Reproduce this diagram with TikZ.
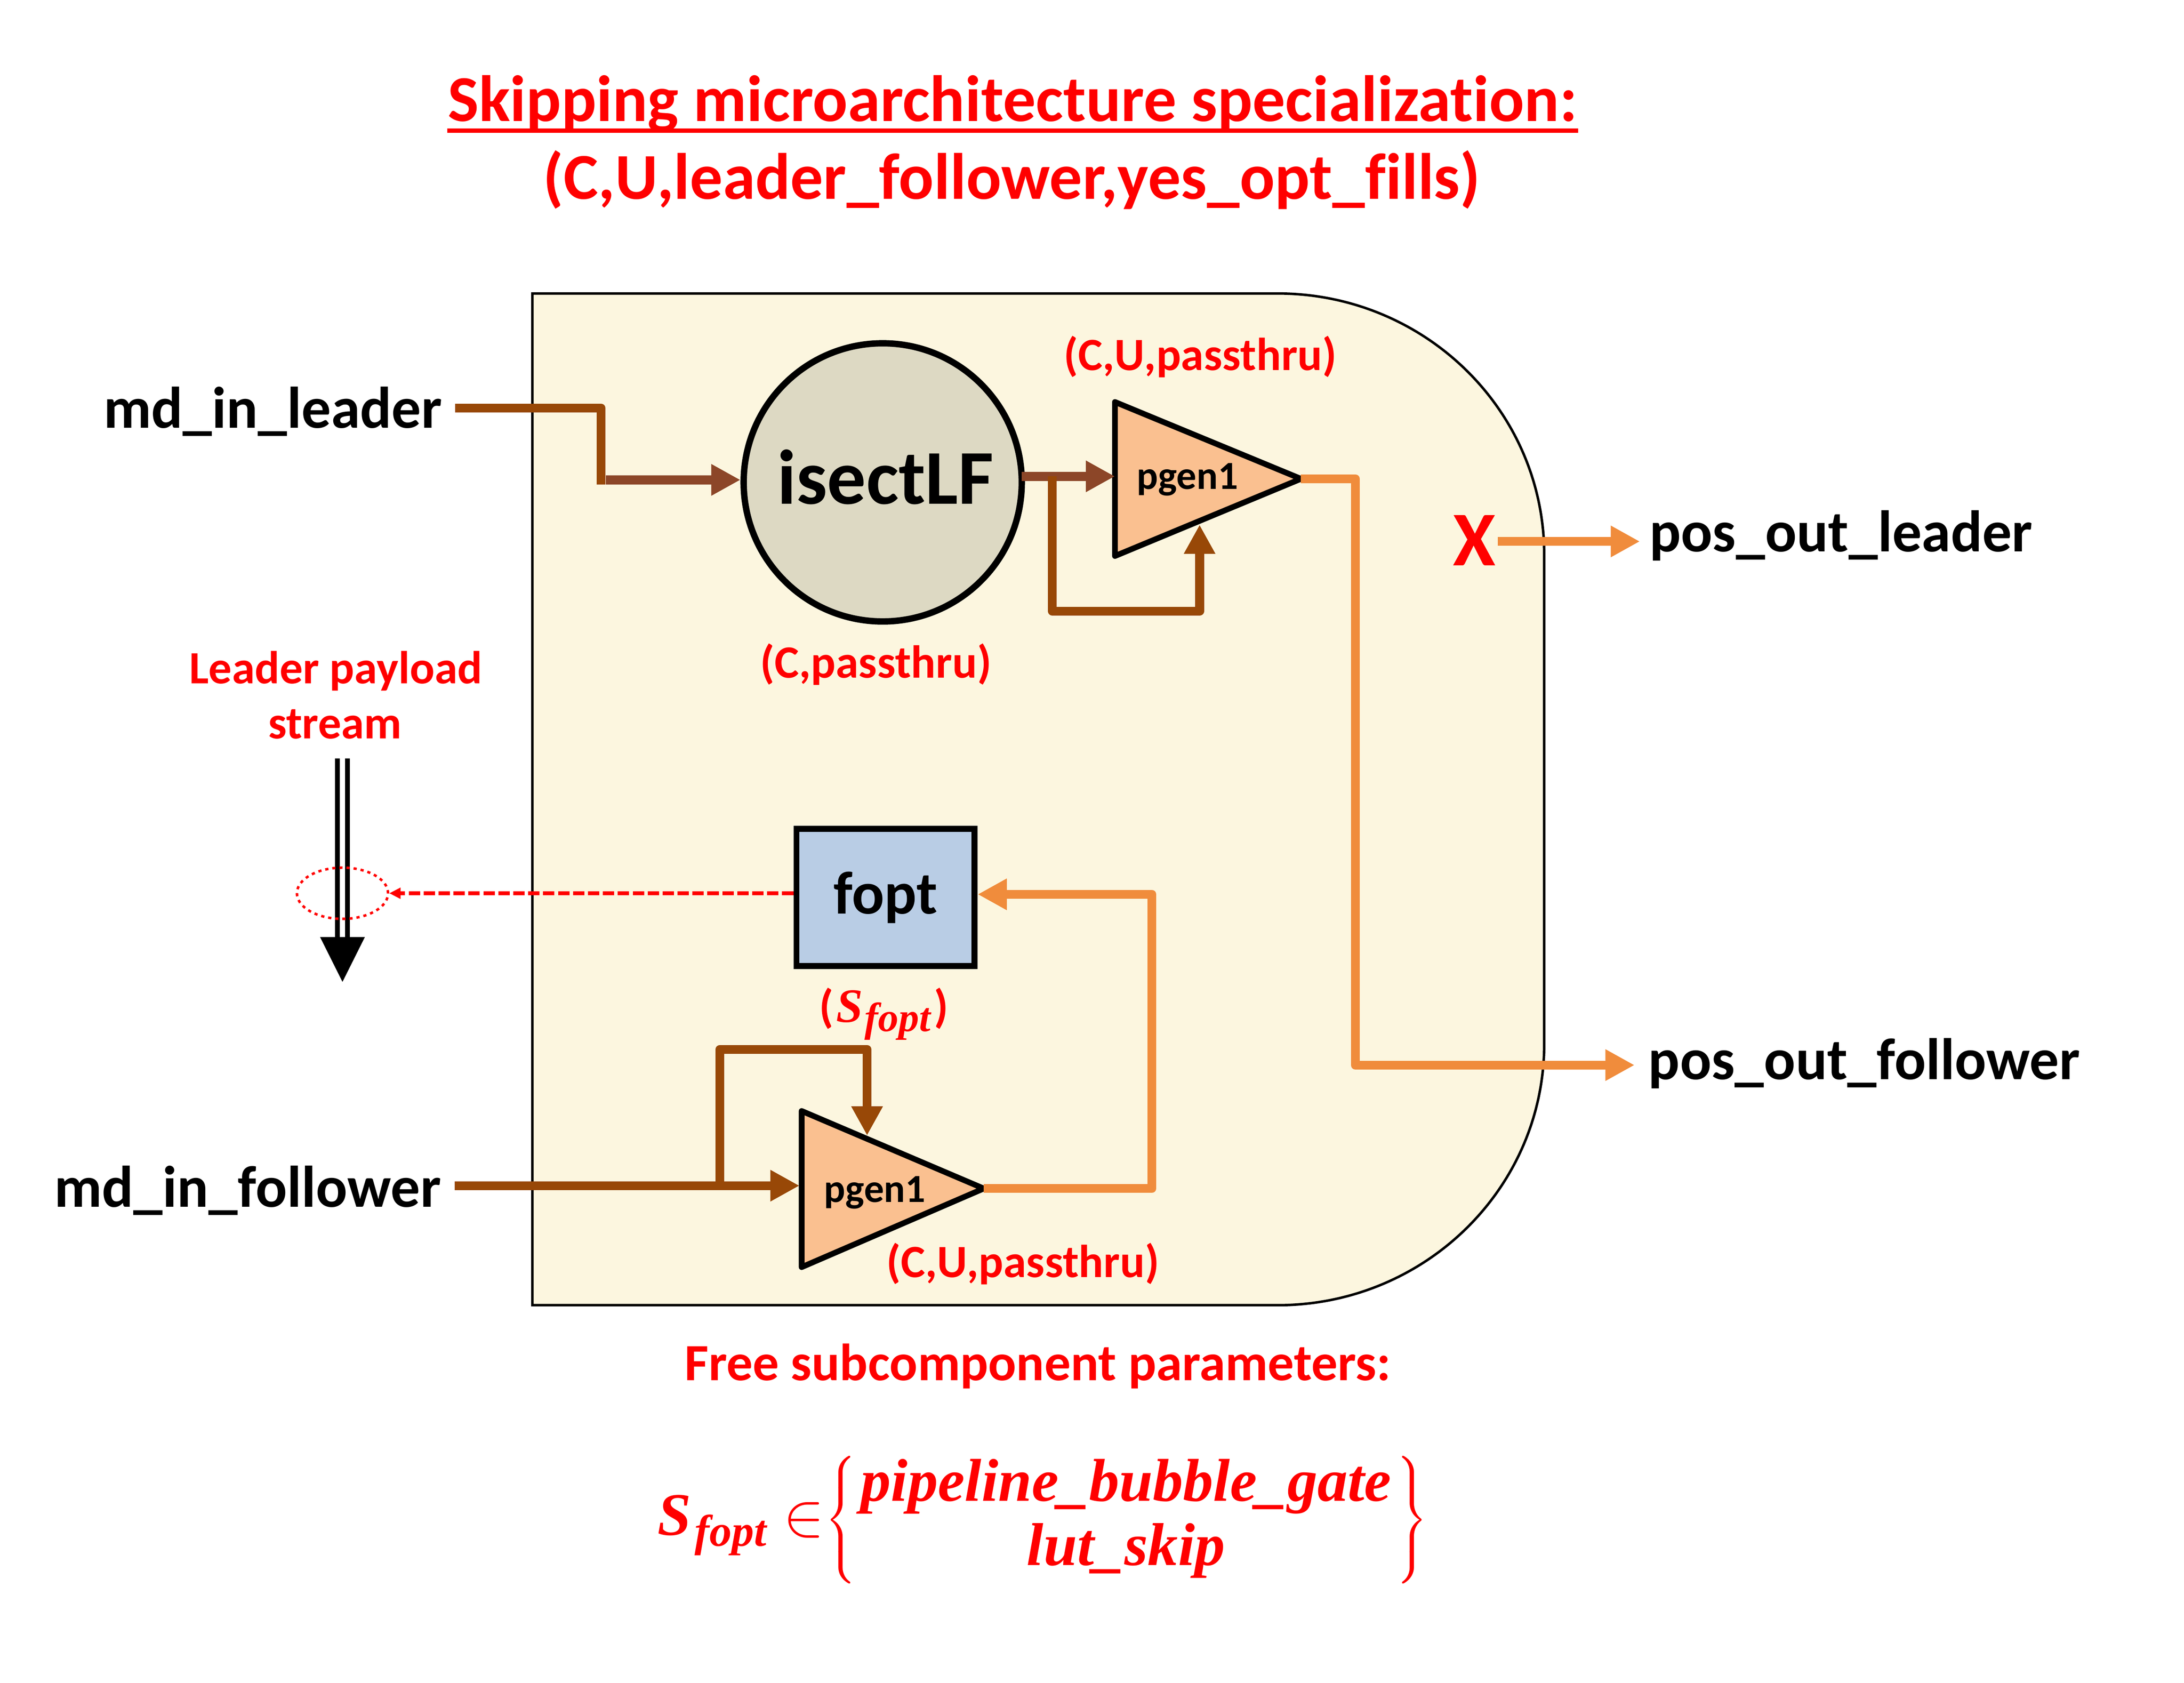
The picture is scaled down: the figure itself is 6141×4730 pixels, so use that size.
\documentclass[tikz,border=0pt]{standalone}
\usepackage{fontspec}
\setmainfont{Carlito}[Ligatures=NoCommon]
\newfontfamily\formfont{Liberation Serif}[Ligatures=NoCommon]
\usetikzlibrary{arrows.meta,calc,shapes.geometric}
\definecolor{boxfill}{HTML}{FCF6DF}
\definecolor{isectfill}{HTML}{DDD9C3}
\definecolor{pgenfill}{HTML}{FAC090}
\definecolor{foptfill}{HTML}{B9CDE5}
\definecolor{wirebrown}{HTML}{984807}
\definecolor{siennac}{HTML}{8C4628}
\definecolor{orangec}{HTML}{F08C3C}
\definecolor{lred}{HTML}{FF0000}
\begin{document}
\begin{tikzpicture}[x=0.1pt,y=-0.1pt,
  lbl/.style={inner sep=0, font=\bfseries\fontsize{16.5}{20}\selectfont},
  rlbl/.style={inner sep=0, text=lred, font=\bfseries\fontsize{13}{16}\selectfont},
  brownw/.style={draw=wirebrown, line width=2.5pt, line join=round},
  siennaw/.style={draw=siennac, line width=2.6pt, line join=round},
  orangew/.style={draw=orangec, line width=2.5pt, line join=round},
  tipa/.style={-{Triangle[length=8.2pt,width=8.3pt]}},
  tri/.style={draw=black, line width=1.6pt, fill=pgenfill, line join=round},
  pgentext/.style={inner sep=0, font=\bfseries\fontsize{11.2}{13}\selectfont},
  formtext/.style={inner sep=0, text=lred, font=\formfont\bfseries\itshape\fontsize{17}{20}\selectfont},
  titletext/.style={inner sep=0, text=lred, font=\bfseries\fontsize{18.4}{22}\selectfont},
]
\useasboundingbox (0,0) rectangle (6141,4730);

% title
\node[titletext, anchor=base] (t1) at (2847,341) {Skipping microarchitecture specialization:};
\draw[lred, line width=1.2pt] ($(t1.base west)+(0,26)$) -- ($(t1.base east)+(0,26)$);
\node[titletext, anchor=base] (t2) at (2845,559) {(C,U,leader\_follower,yes\_opt\_fills)};

% main box
\draw[fill=boxfill, line width=0.7pt] (1497,825) -- (3592,825)
  arc[start angle=-90, end angle=0, x radius=750, y radius=735] -- (4342,2934)
  arc[start angle=0, end angle=90, x radius=750, y radius=735] -- (1497,3669) -- cycle;

% isectLF
\node[circle, draw=black, line width=1.8pt, fill=isectfill, minimum size=78.2pt, inner sep=0] (isect) at (2482,1356) {};
\node[inner sep=0, font=\bfseries\fontsize{21.8}{25}\selectfont, anchor=base] (isecttxt) at (2490,1417) {isectLF};
\node[rlbl, anchor=base] (isectpar) at (2463,1905) {(C,passthru)};

% upper pgen1
\coordinate (p1top) at (3135,1130);
\coordinate (p1bot) at (3135,1563);
\coordinate (p1tip) at (3658,1346);
\draw[tri] (p1top) -- (p1tip) -- (p1bot) -- cycle;
\node[pgentext, anchor=base] (p1txt) at (3339,1375) {pgen1};
\node[rlbl, anchor=base] (p1par) at (3375,1041) {(C,U,passthru)};

% fopt
\node[draw=black, line width=1.7pt, fill=foptfill, minimum width=50.1pt, minimum height=38.6pt, inner sep=0, font=\bfseries\fontsize{17}{20}\selectfont] (fopt) at (2490,2523) {fopt};
\node[inner sep=0, text=lred, anchor=base] (foptpar) at (2485,2873) {\bfseries\fontsize{13}{16}\selectfont(\kern0.8pt{\formfont\bfseries\itshape\fontsize{13.5}{16}\selectfont S\kern0.5pt\raisebox{-2.6pt}{\fontsize{11.5}{13}\selectfont fopt}}\kern1pt)};

% lower pgen1
\coordinate (p2top) at (2254,3123);
\coordinate (p2bot) at (2254,3562);
\coordinate (p2tip) at (2766,3341);
\draw[tri] (p2top) -- (p2tip) -- (p2bot) -- cycle;
\node[pgentext, anchor=base] (p2txt) at (2460,3379) {pgen1};
\node[rlbl, anchor=base] (p2par) at (2876,3590) {(C,U,passthru)};

% port labels
\node[lbl, anchor=base east] (mdl) at (1245,1203) {md\_in\_leader};
\node[lbl, anchor=base east] (mdf) at (1242,3393) {md\_in\_follower};
\node[lbl, anchor=base west] (pol) at (4636,1551) {pos\_out\_leader};
\node[lbl, anchor=base west] (pof) at (4633,3034) {pos\_out\_follower};
\node[inner sep=0, text=lred, font=\bfseries\fontsize{21.8}{25}\selectfont, anchor=base] (xmark) at (4145,1590) {X};

% upper wires
\coordinate (w1a) at (1280,1147);
\coordinate (w1b) at (1690,1147);
\coordinate (w1c) at (1690,1362);
\draw[brownw, line cap=butt] (w1a) -- (w1b) -- (w1c);
\coordinate (w1d) at (1703,1349);
\draw[siennaw, tipa] (w1d) -- (w1d -| isect.west);
\coordinate (w2a) at (2873,1339);
\coordinate (w2b) at (3135,1339);
\draw[siennaw, tipa] (w2a) -- (w2b);
\coordinate (fb1a) at (2959,1339);
\coordinate (fb1b) at (2959,1718);
\coordinate (fb1c) at (3373,1718);
\coordinate (fb1d) at (3373,1475);
\draw[brownw, tipa] (fb1a) -- (fb1b) -- (fb1c) -- (fb1d);
\coordinate (o1b) at (3811,1346);
\coordinate (o1c) at (3811,2994);
\coordinate (o1d) at (4596,2994);
\draw[orangew, tipa] (p1tip) -- (o1b) -- (o1c) -- (o1d);
\coordinate (o2a) at (4211,1522);
\coordinate (o2b) at (4611,1522);
\draw[orangew, tipa] (o2a) -- (o2b);

% lower wires
\coordinate (w3a) at (1279,3333);
\coordinate (w3b) at (2248,3333);
\draw[brownw, tipa] (w3a) -- (w3b);
\coordinate (fb2a) at (2024,3333);
\coordinate (fb2b) at (2024,2950);
\coordinate (fb2c) at (2438,2950);
\coordinate (fb2d) at (2438,3192);
\draw[brownw, tipa] (fb2a) -- (fb2b) -- (fb2c) -- (fb2d);
\coordinate (o3b) at (3239,3341);
\coordinate (o3c) at (3239,2514);
\draw[orangew, tipa] (p2tip) -- (o3b) -- (o3c) -- (o3c -| fopt.east);

% leader payload stream
\node[rlbl, anchor=base] (lp1) at (944,1922) {Leader payload};
\node[rlbl, anchor=base] (lp2) at (942,2076) {stream};
\coordinate (s1t) at (949,2132);
\coordinate (s1b) at (949,2640);
\coordinate (s2t) at (977,2132);
\coordinate (s2b) at (977,2640);
\draw[line width=1.4pt] (s1t) -- (s1b);
\draw[line width=1.4pt] (s2t) -- (s2b);
\coordinate (sa1) at (900,2634);
\coordinate (sa2) at (1026,2634);
\coordinate (sa3) at (963,2760);
\fill (sa1) -- (sa2) -- (sa3) -- cycle;
\node[ellipse, draw=lred, line width=0.7pt, dash pattern=on 0.9pt off 1.1pt, minimum width=25.6pt, minimum height=14.4pt, inner sep=0] (ell) at (963,2511) {};
\draw[lred, line width=1pt, dash pattern=on 3.2pt off 1pt, -{Triangle[length=3.2pt,width=3pt]}] (fopt.west |- ell) -- (ell.east);

% free parameters
\node[rlbl, font=\bfseries\fontsize{14.7}{18}\selectfont, anchor=base] (freep) at (2918,3881) {Free subcomponent parameters:};
\node[formtext, anchor=base west] (fs) at (1847,4315) {S\kern1pt\raisebox{-3.1pt}{\fontsize{12.5}{15}\selectfont fopt}};
\node[inner sep=0, text=lred, font=\fontsize{17}{20}\selectfont] (elem) at (2260,4273) {$\in$};
\node[inner sep=0, text=lred, font=\fontsize{17}{20}\selectfont] (lbr) at (2370,4274) {$\left\{\rule[-14pt]{0pt}{28pt}\right.$};
\node[inner sep=0, text=lred, font=\fontsize{17}{20}\selectfont] (rbr) at (3964,4274) {$\left.\rule[-14pt]{0pt}{28pt}\right\}$};
\node[formtext, anchor=base] (opt1) at (3166,4219) {pipeline\_bubble\_gate};
\node[formtext, anchor=base] (opt2) at (3166,4400) {lut\_skip};
\end{tikzpicture}
\end{document}
